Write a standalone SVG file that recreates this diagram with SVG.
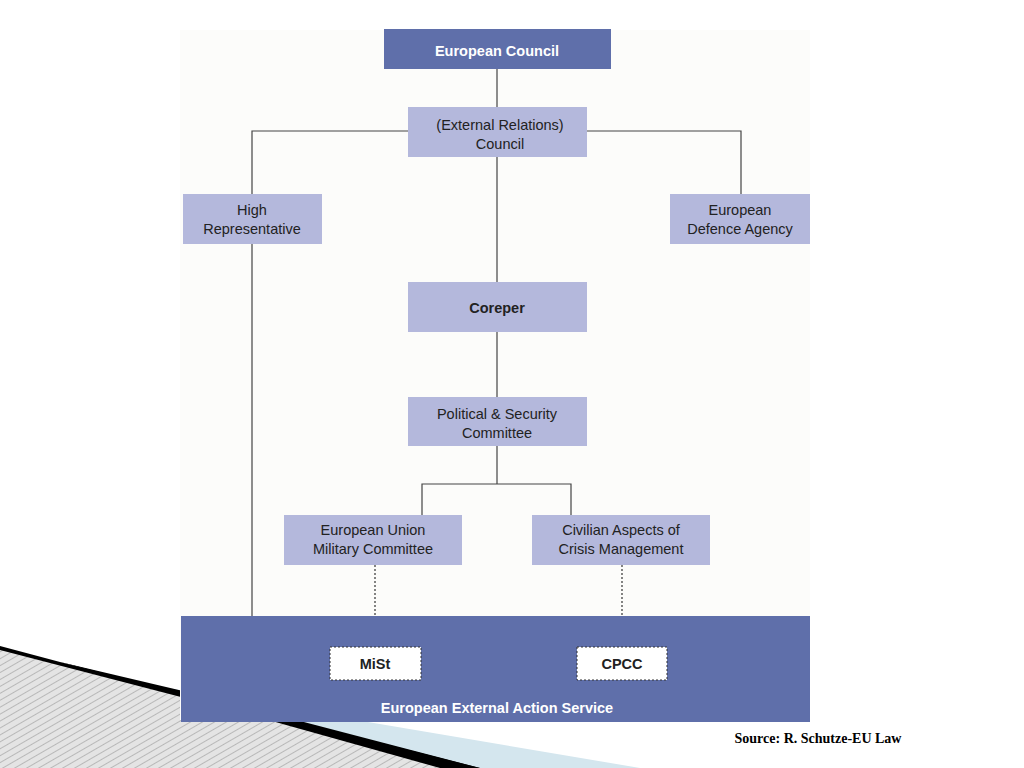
<svg xmlns="http://www.w3.org/2000/svg" width="1024" height="768" viewBox="0 0 1024 768">
<defs>
<style>
.dk{fill:#5f6faa}
.lt{fill:#b4b8dc}
.t{font-family:"Liberation Sans",Arial,sans-serif;font-size:14.5px;fill:#222;text-anchor:middle}
.b{font-weight:bold}
.w{fill:#fff}
.ln{stroke:#444;stroke-width:1.2;fill:none}
.ds{stroke:#333;stroke-width:1.2;fill:none;stroke-dasharray:2,2}
</style>
<pattern id="h" width="6" height="6" patternUnits="userSpaceOnUse" patternTransform="rotate(60)">
<rect width="6" height="6" fill="#e4e4e4"/><line x1="0" y1="0" x2="0" y2="6" stroke="#aaa" stroke-width="1.5"/>
</pattern>
</defs>
<rect width="1024" height="768" fill="#fff"/>
<g id="decor">
<polygon points="120,680 640,768 420,768 110,690" fill="#d4e6ee"/>
<polygon points="0,648 470,768 0,768" fill="url(#h)"/>
<polygon points="0,646 60,662 480,768 455,768 0,650" fill="#000"/>
<polygon points="60,662 200,695 480,768 440,768" fill="#000"/>
</g>
<rect x="180" y="30" width="630" height="690" fill="#fcfcfa"/>
<g id="connectors">
<path class="ln" d="M497,69V107M497,157V282M497,332V397M497,446V484M422,515V484H571V515M408,131H252V194M587,131H741V194M252,244V616"/>
<path class="ds" d="M375,565V647M622,565V647"/>
</g>
<g id="eeas"><rect class="dk" x="181" y="616" width="629" height="106"/><text class="t b w" x="497" y="713">European External Action Service</text></g>
<g id="ec"><rect class="dk" x="384" y="29" width="227" height="40"/><text class="t b w" x="497" y="56">European Council</text></g>
<g id="erc"><rect class="lt" x="408" y="107" width="179" height="50"/><text class="t" x="500" y="130">(External Relations)</text><text class="t" x="500" y="149">Council</text></g>
<g id="hr"><rect class="lt" x="183" y="194" width="139" height="50"/><text class="t" x="252" y="215">High</text><text class="t" x="252" y="234">Representative</text></g>
<g id="eda"><rect class="lt" x="670" y="194" width="140" height="50"/><text class="t" x="740" y="215">European</text><text class="t" x="740" y="234">Defence Agency</text></g>
<g id="coreper"><rect class="lt" x="408" y="282" width="179" height="50"/><text class="t b" x="497" y="313">Coreper</text></g>
<g id="psc"><rect class="lt" x="408" y="397" width="179" height="49"/><text class="t" x="497" y="419">Political &amp; Security</text><text class="t" x="497" y="438">Committee</text></g>
<g id="eumc"><rect class="lt" x="284" y="515" width="178" height="50"/><text class="t" x="373" y="535">European Union</text><text class="t" x="373" y="554">Military Committee</text></g>
<g id="civ"><rect class="lt" x="532" y="515" width="178" height="50"/><text class="t" x="621" y="535">Civilian Aspects of</text><text class="t" x="621" y="554">Crisis Management</text></g>
<g id="mist"><rect x="330" y="647" width="91" height="33" fill="#fff" stroke="#333" stroke-dasharray="2,2"/><text class="t b" x="375" y="669">MiSt</text></g>
<g id="cpcc"><rect x="577" y="647" width="90" height="33" fill="#fff" stroke="#333" stroke-dasharray="2,2"/><text class="t b" x="622" y="669">CPCC</text></g>
<text x="818" y="743" font-family="Liberation Serif,serif" font-weight="bold" font-size="14" text-anchor="middle" fill="#000">Source: R. Schutze-EU Law</text>
</svg>
